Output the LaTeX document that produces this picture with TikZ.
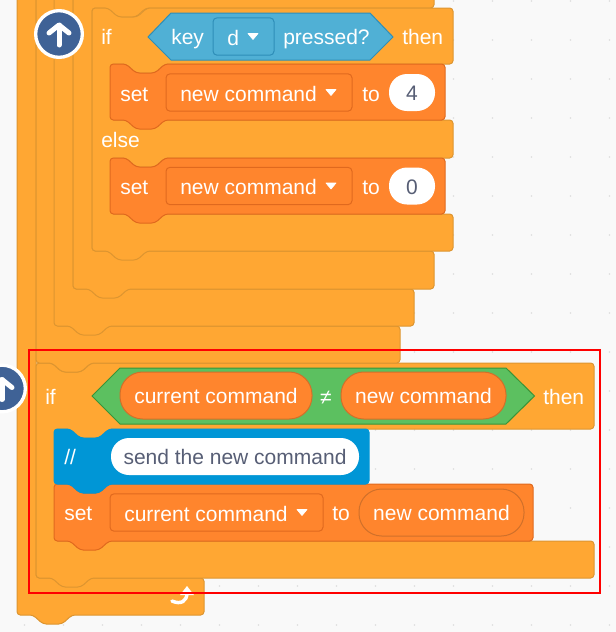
\documentclass[tikz,border=0pt]{standalone}
\usepackage{fontspec}
\setmainfont{Liberation Sans}
\definecolor{bgcol}{HTML}{F9F9F9}
\definecolor{dotcol}{HTML}{DDDDDD}
\definecolor{ctrlfill}{HTML}{FFA733}
\definecolor{ctrlline}{HTML}{DD9530}
\definecolor{datafill}{HTML}{FF852D}
\definecolor{dataline}{HTML}{E0691E}
\definecolor{reportline}{HTML}{D0702A}
\definecolor{sensefill}{HTML}{50B0D5}
\definecolor{senseline}{HTML}{2E8EB8}
\definecolor{opfill}{HTML}{5CC060}
\definecolor{opline}{HTML}{389438}
\definecolor{notefill}{HTML}{0096D6}
\definecolor{inputtext}{HTML}{575E75}
\definecolor{flagfill}{HTML}{3F6296}

\tikzset{
  ctrl/.style={fill=ctrlfill, draw=ctrlline, line width=0.75pt, rounded corners=2.5pt},
  data/.style={fill=datafill, draw=dataline, line width=0.75pt, rounded corners=2.5pt},
  note/.style={fill=notefill, draw=notefill, line width=0.75pt, rounded corners=2.5pt},
  label/.style={text=white, font=\fontsize{15.75}{18}\selectfont, inner sep=0pt,
    text height=11.25pt, text depth=0pt, anchor=west},
  reporter/.style={label, anchor=center, text height=12.4pt, fill=datafill, draw=reportline, line width=0.75pt,
    rounded corners=17pt, minimum height=35.25pt},
  inputbox/.style={label, anchor=center, text height=12.4pt, text=inputtext, fill=white,
    rounded corners=13.5pt, minimum height=27.75pt},
  dropbox/.style={fill=#1fill, draw=#1line, line width=0.75pt, rounded corners=3pt,
    minimum height=28pt, inner sep=0pt},
  droptri/.style={fill=white, draw=white, line width=0.5pt, line join=round},
  griddot/.style={fill=dotcol},
  flagring/.style={circle, fill=flagfill, draw=white, line width=2.5pt, minimum size=35pt, inner sep=0pt},
  flagarrow/.style={draw=white, line width=3.75pt, line cap=round, line join=round},
}

% style, x, top, right, bottom
\newcommand{\stackblock}[5]{
  \draw[#1] (#2,#3) -- ++(16,0) -- ++(10,9) -- ++(19,0) -- ++(10,-9) -- (#4,#3) -- (#4,#5)
    -- ({#2+55},#5) -- ++(-10,9) -- ++(-19,0) -- ++(-10,-9) -- (#2,#5) -- cycle;
}
% x, top, right, head bottom, extra inner path, arm top, bottom
\newcommand{\cblock}[7]{
  \draw[ctrl] (#1,#2) -- ++(16,0) -- ++(10,9) -- ++(19,0) -- ++(10,-9) -- (#3,#2) -- (#3,#4)
    -- ({#1+73},#4) -- ++(-10,9) -- ++(-19,0) -- ++(-10,-9) -- ({#1+19},#4)
    #5 -- ({#1+19},#6) -- (#3,#6) -- (#3,#7)
    -- ({#1+55},#7) -- ++(-10,9) -- ++(-19,0) -- ++(-10,-9) -- (#1,#7) -- cycle;
}
% name, colour, left, right, y, text
\newcommand{\dropdown}[6]{
  \node[dropbox=#2, minimum width={(#4-#3)*0.75pt}] (#1) at ({(#3+#4)/2},#5) {};
  \node[label] (#1text) at ({#3+14},{#5+1}) {#6};
  \fill[droptri] ({#4-26},{#5-3}) -- ({#4-16},{#5-3}) -- ({#4-21},{#5+3}) -- cycle;
}
% name, x, y
\newcommand{\flagbutton}[3]{
  \node[flagring] (#1) at (#2,#3) {};
  \draw[flagarrow] (#2,{#3+11}) -- (#2,{#3-9});
  \draw[flagarrow] ({#2-10},{#3-1}) -- (#2,{#3-9}) -- ({#2+10},{#3-1});
}

\begin{document}
\begin{tikzpicture}[x=0.75pt, y=-0.75pt]
\useasboundingbox (0,0) rectangle (616,632);
\clip (0,0) rectangle (616,632);
\fill[bgcol] (0,0) rectangle (616,632);
\foreach \i in {0,...,15}
  \foreach \j in {0,...,16}
    \fill[griddot] ({24.5+39*\i},{1+39*\j}) circle (0.9);

% outer blocks, the outermost first
\cblock{17}{-60}{204}{-20}{}{578}{615}
\cblock{36}{363}{594}{429}{}{541}{578}
\cblock{36}{-60}{400}{-20}{}{326}{363}
\cblock{54}{-60}{414}{-20}{}{289}{326}
\cblock{73}{-60}{434}{8}{}{251}{289}
\cblock{92}{8}{453}{64}{-- (111,120) -- (453,120) -- (453,158) -- (165,158) -- ++(-10,9) -- ++(-19,0) -- ++(-10,-9) -- (111,158)}{214}{251}

% upper if
\node[label] (ifa) at (101,37) {if};
\node[label] (thena) at (402,37) {then};
\node[label] (elsea) at (101,140) {else};
\draw[fill=sensefill, draw=senseline, line width=0.75pt] (148,37) -- (171,13) -- (370,13) -- (393,37) -- (370,60) -- (171,60) -- cycle;
\node[label] (key) at (171,37) {key};
\dropdown{keyd}{sense}{213}{274}{36.5}{d}
\node[label] (pressed) at (283,37) {pressed?};

\stackblock{data}{110}{158}{445}{214}
\stackblock{data}{110}{64}{445}{120}
\node[label] (seta) at (120,94) {set};
\dropdown{vara}{data}{166}{352}{92.5}{new command}
\node[label] (toa) at (362,94) {to};
\node[inputbox, minimum width=34.5pt] (four) at (412,92.5) {4};
\node[label] (setb) at (120,187) {set};
\dropdown{varb}{data}{166}{352}{186}{new command}
\node[label] (tob) at (362,187) {to};
\node[inputbox, minimum width=34.5pt] (zero) at (412,186) {0};

% lower if
\node[label] (ifb) at (45,397) {if};
\node[label] (thenb) at (543,397) {then};
\draw[fill=opfill, draw=opline, line width=0.75pt] (92,396) -- (120,368) -- (506,368) -- (534.5,396) -- (506,424) -- (120,424) -- cycle;
\node[reporter, minimum width=144pt] (curcmd) at (216,395.5) {current command};
\node[label, anchor=center] (noteq) at (326,396.5) {≠};
\node[reporter, minimum width=123.75pt] (newcmd) at (423.5,395.5) {new command};

\stackblock{data}{54}{484}{533}{541}
\stackblock{note}{54}{429}{369}{484}
\node[label] (slashes) at (64,457) {//};
\node[inputbox, text height=12pt, minimum width=186pt] (sendtext) at (235,456.5) {send the new command};
\node[label] (setc) at (64,513) {set};
\dropdown{varc}{data}{110}{323}{512.5}{current command}
\node[label] (toc) at (332,513) {to};
\node[reporter, minimum width=123.75pt] (newcmdb) at (441.5,512.5) {new command};

\flagbutton{flaga}{59}{34}
\flagbutton{flagb}{2}{388.5}

% loop arrow
\draw[white, line width=2.6pt, line cap=round] (172,601) .. controls (181,605) and (187,601) .. (187,593);
\fill[white] (180,595) -- (187,586) -- (194,595) -- cycle;

\draw[red, line width=1.5pt] (29,350) rectangle (600,593);
\end{tikzpicture}
\end{document}
